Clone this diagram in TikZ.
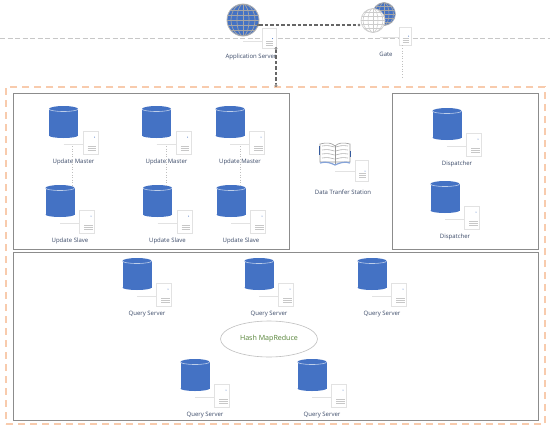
\documentclass[tikz,border=0pt]{standalone}
\usepackage{fontspec}
\setmainfont{Open Sans}
\usetikzlibrary{shapes.geometric,calc}
\definecolor{dbblue}{HTML}{4472C4}
\definecolor{lbl}{HTML}{3B4A68}
\definecolor{orangeb}{HTML}{F8CBAD}
\definecolor{boxg}{HTML}{8C8C8C}
\definecolor{docg}{HTML}{E2E2E2}
\definecolor{hashg}{HTML}{548235}
\tikzset{
  x=1pt,y=-1pt,
  lab/.style={font=\fontsize{6}{7}\selectfont,text=lbl,inner sep=0pt},
  panel/.style={draw=boxg,line width=0.9pt},
  docbox/.style={draw=docg,fill=white,line width=0.9pt,minimum width=15pt,minimum height=23pt,inner sep=0pt},
  tick/.style={draw=docg,line width=0.8pt},
  dotline/.style={draw=black!25,line width=0.6pt,dotted},
  conn/.style={draw=black!60,line width=1.2pt,dash pattern=on 3.5pt off 2pt},
  endp/.style={circle,draw=black!80,fill=white,line width=0.4pt,minimum size=2.4pt,inner sep=0pt},
  stripe/.style={draw=black!22,line width=0.9pt},
}
% db unit: id, cx, top y, label
\newcommand{\dbunit}[4]{%
  \pgfmathsetmacro{\cx}{#2}\pgfmathsetmacro{\ty}{#3}
  \pgfmathsetmacro{\yA}{\ty+3}\pgfmathsetmacro{\yB}{\ty+29.5}
  \fill[dbblue] (\cx-14.5,\yA) rectangle (\cx+14.5,\yB);
  \fill[dbblue] (\cx,\yA) ellipse[x radius=14.5,y radius=3];
  \fill[dbblue] (\cx,\yB) ellipse[x radius=14.5,y radius=2.5];
  \draw[white!65!dbblue,line width=0.6pt] (\cx-14.5,\yA) arc[start angle=180,end angle=0,x radius=14.5,y radius=2.5];
  \coordinate (#1t) at (\cx,\ty+38);
  \node[docbox] (#1d) at (\cx+27,\ty+36.5) {};
  \fill[dbblue] (\cx+31,\ty+31) circle (0.5);
  \foreach \s in {40,42,44}{\draw[stripe] (\cx+24,\ty+\s) -- (\cx+32.5,\ty+\s);}
  \draw[tick] (#1t) -- (#1d.west |- #1t);
  \node[lab] (#1l) at (\cx+10,\ty+55.6) {#4};
}
\begin{document}
\begin{tikzpicture}
\useasboundingbox (0,0) rectangle (550,429);
\fill[white] (0,0) rectangle (550,429);
% swimlane
\coordinate (laneL) at (0,38); \coordinate (laneR) at (550,38);
\draw[black!22,line width=0.6pt,dash pattern=on 5pt off 2.5pt] (laneL) -- (laneR);
% outer dashed
\node[draw=orangeb,line width=1.1pt,dash pattern=on 7pt off 5pt,minimum width=539pt,minimum height=337pt,inner sep=0pt] (outer) at (275.5,255.5) {};
\node[panel,minimum width=276pt,minimum height=156pt,inner sep=0pt] (updbox) at (151,171) {};
\node[panel,minimum width=146pt,minimum height=156pt,inner sep=0pt] (dispbox) at (465,171) {};
\node[panel,minimum width=525pt,minimum height=168pt,inner sep=0pt] (qbox) at (275.5,336) {};
% Update units
\dbunit{um1}{63.5}{106}{Update Master}
\dbunit{um2}{156.5}{106}{Update Master}
\dbunit{um3}{230}{106}{Update Master}
\dbunit{us1}{60}{185}{Update Slave}
\dbunit{us2}{157.5}{185}{Update Slave}
\dbunit{us3}{231}{185}{Update Slave}
\coordinate (a1) at (72,146); \coordinate (b1) at (72,186);
\coordinate (a2) at (166,146); \coordinate (b2) at (166,186);
\coordinate (a3) at (240,146); \coordinate (b3) at (240,186);
\draw[dotline] (a1) -- (b1); \draw[dotline] (a2) -- (b2); \draw[dotline] (a3) -- (b3);
% Dispatcher
\dbunit{d1}{447}{108}{Dispatcher}
\dbunit{d2}{445}{181}{Dispatcher}
% Query
\dbunit{q1}{137}{258}{Query Server}
\dbunit{q2}{259}{258}{Query Server}
\dbunit{q3}{372}{258}{Query Server}
\dbunit{q4}{195}{359}{Query Server}
\dbunit{q5}{312}{359}{Query Server}
\node[ellipse,draw=black!25,line width=0.6pt,minimum width=97pt,minimum height=36pt,inner sep=0pt,font=\fontsize{7.1}{9}\selectfont,text=hashg] (hash) at (269,339) {Hash MapReduce};
% Book
\foreach \yy in {146,150,154,158}{
  \draw[black!30,line width=0.6pt] (322,\yy) .. controls (328,\yy-1) and (331,\yy) .. (334.5,\yy+1);
  \draw[black!30,line width=0.6pt] (335.5,\yy+1) .. controls (339,\yy) and (342,\yy-1) .. (348,\yy);
}
\draw[black!40,line width=0.6pt] (320,144) .. controls (327,142) and (332,143) .. (335,146) .. controls (338,143) and (343,142) .. (350,144) -- (350,162) -- (320,162) -- cycle;
\draw[black!40,line width=0.5pt] (335,146) -- (335,164);
\draw[dbblue!80!black,line width=0.9pt] (319,146) -- (319,155);
\draw[dbblue!80!black,line width=0.9pt] (350.5,151) -- (350.5,157);
\draw[dbblue!65,line width=1.2pt] (320,163) .. controls (326,161) and (331,163) .. (335,165) .. controls (339,163) and (345,161) .. (350,163);
\coordinate (bookt) at (335,171);
\node[docbox,minimum width=13pt,minimum height=21pt] (bookd) at (361.5,170.5) {};
\fill[dbblue] (365,171) circle (0.5);
\foreach \s in {173,175,177}{\draw[stripe] (359,\s) -- (366,\s);}
\draw[tick] (bookt) -- (bookd.west |- bookt);
\node[lab] (bookl) at (343,192) {Data Tranfer Station};
% Application server globe
\node[circle,minimum size=32pt,inner sep=0pt,fill=dbblue,draw=black!30,line width=0.8pt] (app) at (243,20) {};
\begin{scope}
\clip (243,20) circle (16);
\foreach \dy in {-10,-5,0,5,10}{\draw[black!35,line width=0.7pt] (226,20+\dy) -- (260,20+\dy);}
\draw[black!35,line width=0.7pt] (243,3) -- (243,37);
\foreach \rx in {6,12}{\draw[black!35,line width=0.7pt] (243,20) ellipse[x radius=\rx,y radius=16];}
\end{scope}
% Gate back globe
\node[circle,minimum size=23pt,inner sep=0pt,fill=dbblue,draw=black!25,line width=0.6pt] (gateb) at (384,14) {};
\begin{scope}
\clip (384,14) circle (11.5);
\foreach \dy in {-8,-4,0,4,8}{\draw[black!35,line width=0.6pt] (370,14+\dy) -- (398,14+\dy);}
\draw[black!35,line width=0.6pt] (384,2) -- (384,26);
\foreach \rx in {5,9.5}{\draw[black!35,line width=0.6pt] (384,14) ellipse[x radius=\rx,y radius=11.5];}
\end{scope}
% Gate front globe
\node[circle,minimum size=24pt,inner sep=0pt,fill=white,draw=black!20,line width=0.6pt] (gate) at (373,20.5) {};
\begin{scope}
\clip (373,20.5) circle (12);
\foreach \dy in {-8,-4,0,4,8}{\draw[black!20,line width=0.6pt] (360,20.5+\dy) -- (386,20.5+\dy);}
\draw[black!20,line width=0.6pt] (373,8) -- (373,33);
\foreach \rx in {5,10}{\draw[black!20,line width=0.6pt] (373,20.5) ellipse[x radius=\rx,y radius=12];}
\end{scope}
% docs for app / gate
\coordinate (appt) at (243,41);
\node[docbox,minimum width=14pt,minimum height=20pt] (appd) at (269,38) {};
\fill[dbblue] (272.5,38.5) circle (0.5);
\foreach \s in {41,43,45}{\draw[stripe] (266,\s) -- (273,\s);}
\draw[tick] (appt) -- (appd.west |- appt);
\node[lab] (appl) at (251,57) {Application Server};
\coordinate (gatet) at (380,37);
\node[docbox,minimum width=12pt,minimum height=18pt] (gated) at (405,36) {};
\fill[dbblue] (408.5,36) circle (0.5);
\foreach \s in {38.5,40.5,42.5}{\draw[stripe] (402.5,\s) -- (409,\s);}
\draw[tick] (gatet) -- (gated.west |- gatet);
\node[lab] (gatel) at (386,54) {Gate};
\coordinate (gdot) at (402,78);
\draw[dotline] (gated.south -| gdot) -- (gdot);
% connectors
\node[endp] (c1) at (258,25) {};
\node[endp] (c2) at (359,25) {};
\node[endp] (c3) at (276,48.5) {};
\node[endp] (c4) at (276,85.5) {};
\draw[conn] (c1) -- (c2);
\draw[conn] (c3) -- (c4);
\end{tikzpicture}
\end{document}
